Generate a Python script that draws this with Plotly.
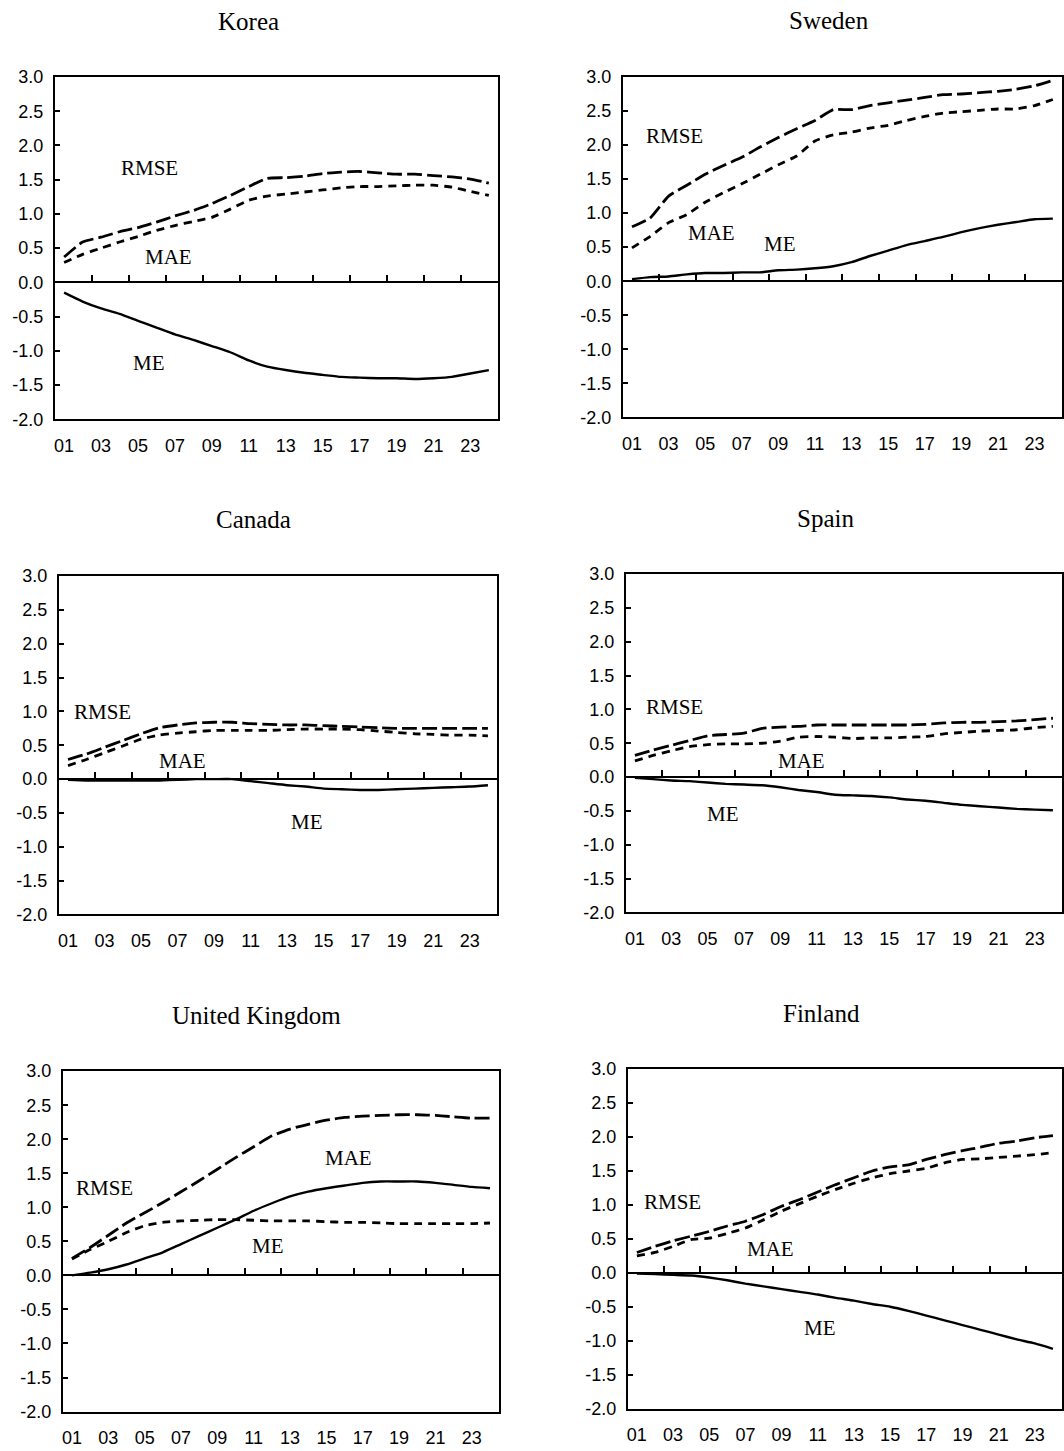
import plotly.graph_objects as go

W, H = 1064, 1451

# ---------------- data ----------------
periods = list(range(1, 25))
x_tick_vals = list(range(1, 24, 2))
x_tick_text = ["%02d" % v for v in x_tick_vals]
y_tick_vals = [3.0, 2.5, 2.0, 1.5, 1.0, 0.5, 0.0, -0.5, -1.0, -1.5, -2.0]
y_tick_text = ["3.0", "2.5", "2.0", "1.5", "1.0", "0.5", "0.0", "-0.5", "-1.0", "-1.5", "-2.0"]
countries = ["Korea", "Sweden", "Canada", "Spain", "United Kingdom", "Finland"]

korea_rmse = [0.37, 0.59, 0.66, 0.74, 0.80, 0.88, 0.97, 1.05, 1.15, 1.27, 1.40, 1.52,
              1.53, 1.55, 1.59, 1.61, 1.62, 1.60, 1.58, 1.58, 1.56, 1.54, 1.51, 1.45]
korea_mae = [0.29, 0.41, 0.50, 0.59, 0.67, 0.76, 0.83, 0.89, 0.95, 1.07, 1.20, 1.26,
             1.29, 1.32, 1.35, 1.38, 1.40, 1.40, 1.41, 1.42, 1.42, 1.39, 1.33, 1.27]
korea_me = [-0.15, -0.28, -0.38, -0.46, -0.56, -0.66, -0.76, -0.84, -0.93, -1.02, -1.14, -1.23,
            -1.28, -1.32, -1.35, -1.38, -1.39, -1.40, -1.40, -1.41, -1.40, -1.38, -1.33, -1.28]

sweden_rmse = [0.80, 0.93, 1.25, 1.41, 1.57, 1.70, 1.82, 1.97, 2.11, 2.24, 2.36, 2.52,
               2.52, 2.58, 2.62, 2.66, 2.70, 2.74, 2.75, 2.77, 2.79, 2.82, 2.87, 2.95]
sweden_mae = [0.49, 0.66, 0.86, 0.98, 1.16, 1.30, 1.43, 1.57, 1.71, 1.84, 2.06, 2.15,
              2.19, 2.25, 2.29, 2.36, 2.42, 2.47, 2.49, 2.51, 2.53, 2.53, 2.58, 2.67]
sweden_me = [0.03, 0.06, 0.07, 0.10, 0.12, 0.12, 0.13, 0.13, 0.16, 0.17, 0.19, 0.22,
             0.28, 0.37, 0.45, 0.53, 0.59, 0.65, 0.72, 0.78, 0.83, 0.87, 0.91, 0.92]

canada_rmse = [0.29, 0.37, 0.47, 0.57, 0.67, 0.76, 0.80, 0.83, 0.84, 0.84, 0.82, 0.81,
               0.80, 0.80, 0.79, 0.78, 0.77, 0.76, 0.75, 0.75, 0.75, 0.75, 0.75, 0.75]
canada_mae = [0.20, 0.29, 0.39, 0.49, 0.59, 0.65, 0.68, 0.70, 0.72, 0.72, 0.72, 0.72,
              0.73, 0.74, 0.74, 0.74, 0.73, 0.71, 0.69, 0.67, 0.66, 0.65, 0.65, 0.64]
canada_me = [-0.01, -0.02, -0.02, -0.02, -0.02, -0.02, -0.01, 0.00, 0.00, 0.00, -0.03, -0.06,
             -0.09, -0.11, -0.14, -0.15, -0.16, -0.16, -0.15, -0.14, -0.13, -0.12, -0.11, -0.09]

spain_rmse = [0.32, 0.40, 0.47, 0.54, 0.61, 0.63, 0.65, 0.72, 0.74, 0.75, 0.77, 0.77,
              0.77, 0.77, 0.77, 0.77, 0.78, 0.80, 0.81, 0.81, 0.82, 0.83, 0.85, 0.87]
spain_mae = [0.24, 0.32, 0.39, 0.45, 0.48, 0.49, 0.49, 0.50, 0.53, 0.59, 0.60, 0.59,
             0.57, 0.58, 0.58, 0.59, 0.60, 0.64, 0.66, 0.68, 0.69, 0.70, 0.73, 0.75]
spain_me = [-0.01, -0.03, -0.05, -0.06, -0.08, -0.10, -0.11, -0.12, -0.15, -0.19, -0.22, -0.26,
            -0.27, -0.28, -0.30, -0.33, -0.35, -0.38, -0.41, -0.43, -0.45, -0.47, -0.48, -0.49]

uk_rmse = [0.25, 0.41, 0.59, 0.77, 0.92, 1.07, 1.23, 1.39, 1.56, 1.73, 1.89, 2.05,
           2.15, 2.22, 2.28, 2.32, 2.34, 2.35, 2.36, 2.36, 2.35, 2.33, 2.31, 2.31]
uk_mae = [0.24, 0.38, 0.50, 0.63, 0.73, 0.78, 0.80, 0.81, 0.82, 0.82, 0.81, 0.80,
          0.80, 0.80, 0.79, 0.78, 0.78, 0.77, 0.76, 0.76, 0.76, 0.76, 0.76, 0.77]
uk_me = [0.00, 0.04, 0.09, 0.16, 0.25, 0.34, 0.46, 0.58, 0.70, 0.82, 0.95, 1.06,
         1.16, 1.23, 1.28, 1.32, 1.36, 1.38, 1.38, 1.38, 1.36, 1.33, 1.30, 1.28]

finland_rmse = [0.30, 0.39, 0.47, 0.54, 0.61, 0.69, 0.76, 0.86, 0.98, 1.08, 1.19, 1.30,
                1.40, 1.50, 1.56, 1.59, 1.67, 1.74, 1.80, 1.85, 1.91, 1.94, 1.99, 2.02]
finland_mae = [0.25, 0.30, 0.39, 0.49, 0.51, 0.58, 0.66, 0.78, 0.91, 1.02, 1.13, 1.23,
               1.32, 1.40, 1.46, 1.50, 1.54, 1.62, 1.67, 1.68, 1.70, 1.72, 1.74, 1.77]
finland_me = [-0.01, -0.02, -0.03, -0.04, -0.07, -0.11, -0.16, -0.20, -0.24, -0.28, -0.32, -0.37,
              -0.41, -0.46, -0.50, -0.56, -0.63, -0.70, -0.77, -0.84, -0.91, -0.98, -1.04, -1.12]

series = {
    "Korea": (korea_rmse, korea_mae, korea_me),
    "Sweden": (sweden_rmse, sweden_mae, sweden_me),
    "Canada": (canada_rmse, canada_mae, canada_me),
    "Spain": (spain_rmse, spain_mae, spain_me),
    "United Kingdom": (uk_rmse, uk_mae, uk_me),
    "Finland": (finland_rmse, finland_mae, finland_me),
}

# ---------------- layout (pixel geometry) ----------------
# box: left, right, top, bottom (px)
boxes = {
    "Korea": (54, 498, 75, 418),
    "Sweden": (623, 1063, 75, 416),
    "Canada": (58, 497, 575, 914),
    "Spain": (626, 1063, 573, 912),
    "United Kingdom": (62, 499, 1071, 1412),
    "Finland": (628, 1063, 1069, 1409),
}
title_pos = {
    "Korea": (248, 19), "Sweden": (830, 18), "Canada": (253, 518),
    "Spain": (826, 517), "United Kingdom": (256, 1015), "Finland": (822, 1013),
}
label_pos = {
    "Korea": {"RMSE": (149, 166), "MAE": (168, 255), "ME": (148, 362)},
    "Sweden": {"RMSE": (675, 134), "MAE": (712, 231), "ME": (780, 242)},
    "Canada": {"RMSE": (102, 711), "MAE": (182, 760), "ME": (307, 821)},
    "Spain": {"RMSE": (675, 706), "MAE": (802, 760), "ME": (723, 813)},
    "United Kingdom": {"RMSE": (104, 1188), "MAE": (348, 1158), "ME": (268, 1246)},
    "Finland": {"RMSE": (673, 1202), "MAE": (771, 1249), "ME": (821, 1328)},
}

TICK_FONT = dict(family="Liberation Sans, Arial", size=18, color="black")
SERIF = "Liberation Serif, Times New Roman"
styles = [
    dict(dash="15px,5px", width=2.8),   # RMSE long dash
    dict(dash="8px,6px", width=2.8),    # MAE short dash
    dict(dash="solid", width=2.4),      # ME solid
]

# vertical compensation for how the page is captured
Y_OFF, Y_SCALE = 7.9, 0.988


def px_x(p):
    return p / W


def px_y(p):
    return 1 - ((p - Y_OFF) / Y_SCALE) / H


fig = go.Figure()
layout = dict(
    width=W, height=H, autosize=False,
    margin=dict(l=0, r=0, t=0, b=0),
    paper_bgcolor="white", plot_bgcolor="white",
    showlegend=False,
)
annotations = []
n = len(countries)
for k, c in enumerate(countries):
    i = k + 1
    L, R, T, B = boxes[c]
    xa = "x%d" % i
    ya = "y%d" % i
    xz = "x%d" % (i + n)
    for vals, st in zip(series[c], styles):
        fig.add_trace(go.Scatter(
            x=periods, y=vals, mode="lines", xaxis=xa, yaxis=ya,
            line=dict(color="black", width=st["width"], dash=st["dash"],
                      shape="spline", smoothing=0.5),
            hoverinfo="skip", showlegend=False))
    # invisible trace for zero-line axis
    fig.add_trace(go.Scatter(x=[None], y=[None], xaxis=xz, yaxis=ya,
                             mode="lines", hoverinfo="skip", showlegend=False))
    dom_x = [px_x(L), px_x(R)]
    dom_y = [px_y(B), px_y(T)]
    zero_px = T + (B - T) * 3.0 / 5.0
    kx = "xaxis%d" % i
    ky = "yaxis%d" % i
    kz = "xaxis%d" % (i + n)
    layout[kx] = dict(
        domain=dom_x, anchor=ya, range=[0.5, 24.5],
        tickmode="array", tickvals=x_tick_vals, ticktext=x_tick_text,
        ticks="", showgrid=False, zeroline=False,
        showline=True, linecolor="black", linewidth=2, mirror=True,
        tickfont=TICK_FONT, ticklabelstandoff=9)
    layout[ky] = dict(
        domain=dom_y, anchor=xa, range=[-2, 3],
        tickmode="array", tickvals=y_tick_vals, ticktext=y_tick_text,
        ticks="inside", ticklen=5, tickwidth=1.5, tickcolor="black",
        showgrid=False, zeroline=False,
        showline=True, linecolor="black", linewidth=2, mirror=True,
        tickfont=TICK_FONT, ticklabelstandoff=6)
    layout[kz] = dict(
        overlaying=xa, anchor="free", position=px_y(zero_px), side="top",
        range=[0.5, 24.5], tickmode="array",
        tickvals=[v + 1.5 for v in x_tick_vals[:-1]],
        ticks="outside", ticklen=6, tickwidth=1.5, tickcolor="black",
        showticklabels=False, showgrid=False, zeroline=False,
        showline=True, linecolor="black", linewidth=2)
    tx, ty = title_pos[c]
    annotations.append(dict(text=c, x=px_x(tx), y=px_y(ty), xref="paper", yref="paper",
                            xanchor="center", yanchor="middle", showarrow=False,
                            font=dict(family=SERIF, size=25, color="black")))
    for name, (lx, ly) in label_pos[c].items():
        annotations.append(dict(text=name, x=px_x(lx), y=px_y(ly), xref="paper", yref="paper",
                                xanchor="center", yanchor="middle", showarrow=False,
                                font=dict(family=SERIF, size=21, color="black")))

layout["annotations"] = annotations
fig.update_layout(**layout)
fig.write_html(
    "out.html",
    config={"displayModeBar": False},
    post_script="document.body.style.margin='0';document.body.style.overflow='hidden';",
)
